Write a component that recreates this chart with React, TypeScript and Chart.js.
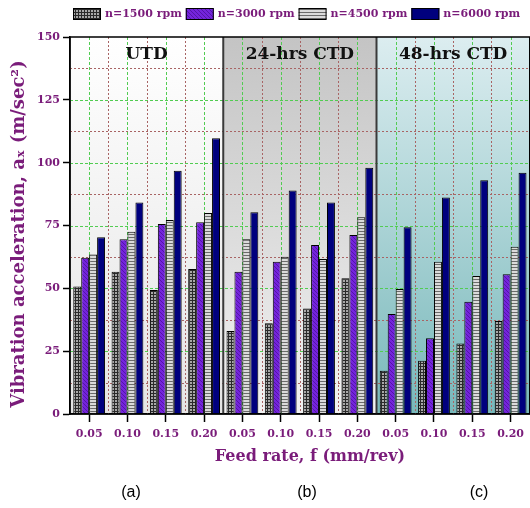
import React, { useEffect, useRef } from "react";
import { Chart, registerables } from "chart.js";

Chart.register(...registerables);

const categories = ["0.05", "0.10", "0.15", "0.20", "0.05", "0.10", "0.15", "0.20", "0.05", "0.10", "0.15", "0.20"];
const panelNames = ["UTD", "24-hrs CTD", "48-hrs CTD"];
const panelTags = ["(a)", "(b)", "(c)"];
const seriesNames = ["n=1500 rpm", "n=3000 rpm", "n=4500 rpm", "n=6000 rpm"];
const rpm1500 = [50.7, 56.6, 49.3, 57.7, 33.0, 36.1, 42.0, 54.0, 17.2, 21.2, 28.1, 37.0];
const rpm3000 = [62.2, 69.5, 75.6, 76.3, 56.6, 60.6, 67.2, 71.2, 39.8, 30.1, 44.7, 55.6];
const rpm4500 = [63.5, 72.5, 77.2, 80.0, 69.5, 62.6, 61.7, 78.3, 49.7, 60.6, 54.9, 66.5];
const rpm6000 = [70.3, 84.2, 96.8, 109.7, 80.3, 88.9, 84.2, 98.0, 74.3, 86.1, 93.0, 96.0];
const yMin = 0;
const yMax = 150;
const yStep = 12.5;
const yLabelStep = 25;
const xTitle = "Feed rate, f (mm/rev)";
const yTitle = "Vibration acceleration, a\u2093 (m/sec\u00B2)";

const PURPLE = "#7a1c7a";
const GREEN = "#52cc52";
const BROWN = "#a86464";
const SERIF = "'DejaVu Serif', serif";

function makePattern(w: number, h: number, draw: (g: CanvasRenderingContext2D) => void) {
  const c = document.createElement("canvas");
  c.width = w;
  c.height = h;
  const g = c.getContext("2d")!;
  draw(g);
  return g.createPattern(c, "repeat")!;
}

export default function App() {
  const ref = useRef<HTMLCanvasElement>(null);

  useEffect(() => {
    const canvas = ref.current!;

    const p1500 = makePattern(3, 3, (g) => {
      g.fillStyle = "#a8a8a8";
      g.fillRect(0, 0, 3, 3);
      g.fillStyle = "#2a2a2a";
      g.fillRect(0, 0, 3, 1);
      g.fillRect(0, 0, 1, 3);
    });
    const p3000 = makePattern(4, 4, (g) => {
      g.fillStyle = "#7424dc";
      g.fillRect(0, 0, 4, 4);
      g.fillStyle = "#5414a8";
      for (let i = 0; i < 4; i++) g.fillRect(i, i, 1, 1);
    });
    const p4500 = makePattern(3, 3, (g) => {
      g.fillStyle = "#dadada";
      g.fillRect(0, 0, 3, 3);
      g.fillStyle = "#6a6a6a";
      g.fillRect(0, 0, 3, 1);
    });
    const fills = [p1500, p3000, p4500, "#00007e"];
    const values = [rpm1500, rpm3000, rpm4500, rpm6000];

    const panelEdges = (chart: any) => {
      const xs = chart.scales.x;
      const a = chart.chartArea;
      const b1 = (xs.getPixelForValue(3) + xs.getPixelForValue(4)) / 2;
      const b2 = (xs.getPixelForValue(7) + xs.getPixelForValue(8)) / 2;
      return [a.left, b1, b2, a.right];
    };

    const line = (ctx: CanvasRenderingContext2D, x1: number, y1: number, x2: number, y2: number) => {
      ctx.beginPath();
      ctx.moveTo(x1, y1);
      ctx.lineTo(x2, y2);
      ctx.stroke();
    };

    const decor = {
      id: "decor",
      beforeDraw(chart: any) {
        const ctx = chart.ctx;
        const a = chart.chartArea;
        const e = panelEdges(chart);
        const stops = [
          ["#ffffff", "#e4e4e4"],
          ["#c4c4c4", "#f2f2f2"],
          ["#dcedf0", "#78b8ba"],
        ];
        ctx.save();
        for (let i = 0; i < 3; i++) {
          const gr = ctx.createLinearGradient(0, a.top, 0, a.bottom);
          gr.addColorStop(0, stops[i][0]);
          gr.addColorStop(1, stops[i][1]);
          ctx.fillStyle = gr;
          ctx.fillRect(e[i], a.top, e[i + 1] - e[i], a.bottom - a.top);
        }
        ctx.restore();
      },
      beforeDatasetsDraw(chart: any) {
        const ctx = chart.ctx;
        const a = chart.chartArea;
        const xs = chart.scales.x;
        const ys = chart.scales.y;
        ctx.save();
        ctx.lineWidth = 1;
        // horizontal grid
        ys.ticks.forEach((t: any) => {
          if (t.value <= yMin || t.value >= yMax) return;
          const y = Math.round(ys.getPixelForValue(t.value)) + 0.5;
          const major = t.value % yLabelStep === 0;
          ctx.strokeStyle = major ? GREEN : BROWN;
          ctx.setLineDash(major ? [3, 2] : [2, 2]);
          line(ctx, a.left, y, a.right, y);
        });
        // vertical grid at category centres
        ctx.strokeStyle = GREEN;
        ctx.setLineDash([3, 2]);
        for (let i = 0; i < categories.length; i++) {
          const x = Math.round(xs.getPixelForValue(i)) + 0.5;
          line(ctx, x, a.top, x, a.bottom);
        }
        // vertical grid at category boundaries
        ctx.strokeStyle = BROWN;
        ctx.setLineDash([2, 2]);
        for (let i = 1; i < categories.length; i++) {
          if (i % 4 === 0) continue;
          const x = Math.round((xs.getPixelForValue(i - 1) + xs.getPixelForValue(i)) / 2) + 0.5;
          line(ctx, x, a.top, x, a.bottom);
        }
        ctx.restore();
      },
      afterDatasetsDraw(chart: any) {
        const ctx = chart.ctx;
        const a = chart.chartArea;
        const e = panelEdges(chart);
        ctx.save();
        // panel dividers
        ctx.strokeStyle = "#3a3a3a";
        ctx.lineWidth = 2;
        for (let i = 1; i < 3; i++) line(ctx, e[i], a.top, e[i], a.bottom);
        // frame
        ctx.strokeStyle = "#000";
        ctx.lineWidth = 1.5;
        ctx.strokeRect(a.left, a.top, a.right - a.left, a.bottom - a.top);
        // panel labels
        ctx.fillStyle = "#111";
        ctx.font = `bold 17px ${SERIF}`;
        ctx.textAlign = "center";
        ctx.textBaseline = "alphabetic";
        for (let i = 0; i < 3; i++) {
          ctx.fillText(panelNames[i], (e[i] + e[i + 1]) / 2, a.top + 22);
        }
        // legend
        ctx.font = `bold 11px ${SERIF}`;
        ctx.textAlign = "left";
        ctx.textBaseline = "middle";
        let lx = 73;
        const ly = 8;
        chart.data.datasets.forEach((ds: any) => {
          ctx.fillStyle = ds.backgroundColor;
          ctx.fillRect(lx, ly, 28, 12);
          ctx.strokeStyle = "#000";
          ctx.lineWidth = 1;
          ctx.strokeRect(lx + 0.5, ly + 0.5, 27, 11);
          ctx.fillStyle = PURPLE;
          ctx.fillText(ds.label, lx + 32, ly + 6.5);
          lx += 32 + ctx.measureText(ds.label).width + 4;
        });
        // axis titles
        ctx.fillStyle = PURPLE;
        ctx.font = `bold 18px ${SERIF}`;
        ctx.textAlign = "center";
        ctx.textBaseline = "middle";
        ctx.save();
        ctx.translate(19, 234);
        ctx.rotate(-Math.PI / 2);
        ctx.fillText(yTitle, 0, 0);
        ctx.restore();
        ctx.font = `bold 16px ${SERIF}`;
        ctx.fillText(xTitle, 310, 457);
        // sub-figure tags
        ctx.fillStyle = "#000";
        ctx.font = "16px 'Liberation Sans', Arial, sans-serif";
        const tagX = [131, 307, 479];
        for (let i = 0; i < 3; i++) ctx.fillText(panelTags[i], tagX[i], 493);
        ctx.restore();
      },
    };

    const chart = new Chart(canvas, {
      type: "bar",
      data: {
        labels: categories,
        datasets: values.map((v, i) => ({
          label: seriesNames[i],
          data: v,
          backgroundColor: fills[i] as any,
          borderColor: "#000",
          borderWidth: 1,
          categoryPercentage: 0.83,
          barPercentage: 1.0,
        })),
      },
      options: {
        responsive: false,
        animation: false,
        layout: { padding: { top: 37, left: 0, right: 0, bottom: 0 } },
        plugins: { legend: { display: false }, tooltip: { enabled: false } },
        scales: {
          x: {
            offset: true,
            grid: {
              offset: false,
              drawOnChartArea: false,
              color: "#000",
              tickLength: 8,
              tickColor: "#000",
              tickWidth: 1.5,
            },
            border: { display: true, color: "#000", width: 1.5 },
            ticks: {
              color: PURPLE,
              font: { family: SERIF, weight: "bold", size: 11 },
              padding: 6,
              maxRotation: 0,
              autoSkip: false,
            },
            afterFit: (s: any) => {
              s.height = 94;
            },
          },
          y: {
            min: yMin,
            max: yMax,
            ticks: {
              stepSize: yStep,
              callback: (v: any) => (Number(v) % yLabelStep === 0 ? String(v) : ""),
              color: PURPLE,
              font: { family: SERIF, weight: "bold", size: 11 },
              padding: 3,
            },
            grid: {
              drawOnChartArea: false,
              tickLength: 7,
              tickColor: (c: any) => (c.tick && c.tick.value % yLabelStep === 0 ? "#000" : "rgba(0,0,0,0)"),
              tickWidth: 1.5,
            },
            border: { display: true, color: "#000", width: 1.5 },
            afterFit: (s: any) => {
              s.width = 70;
            },
          },
        },
      } as any,
      plugins: [decor],
    });

    return () => chart.destroy();
  }, []);

  return (
    <div style={{ position: "absolute", left: 0, top: 0, width: 530, height: 508 }}>
      <canvas ref={ref} width={530} height={508} style={{ display: "block" }} />
    </div>
  );
}
